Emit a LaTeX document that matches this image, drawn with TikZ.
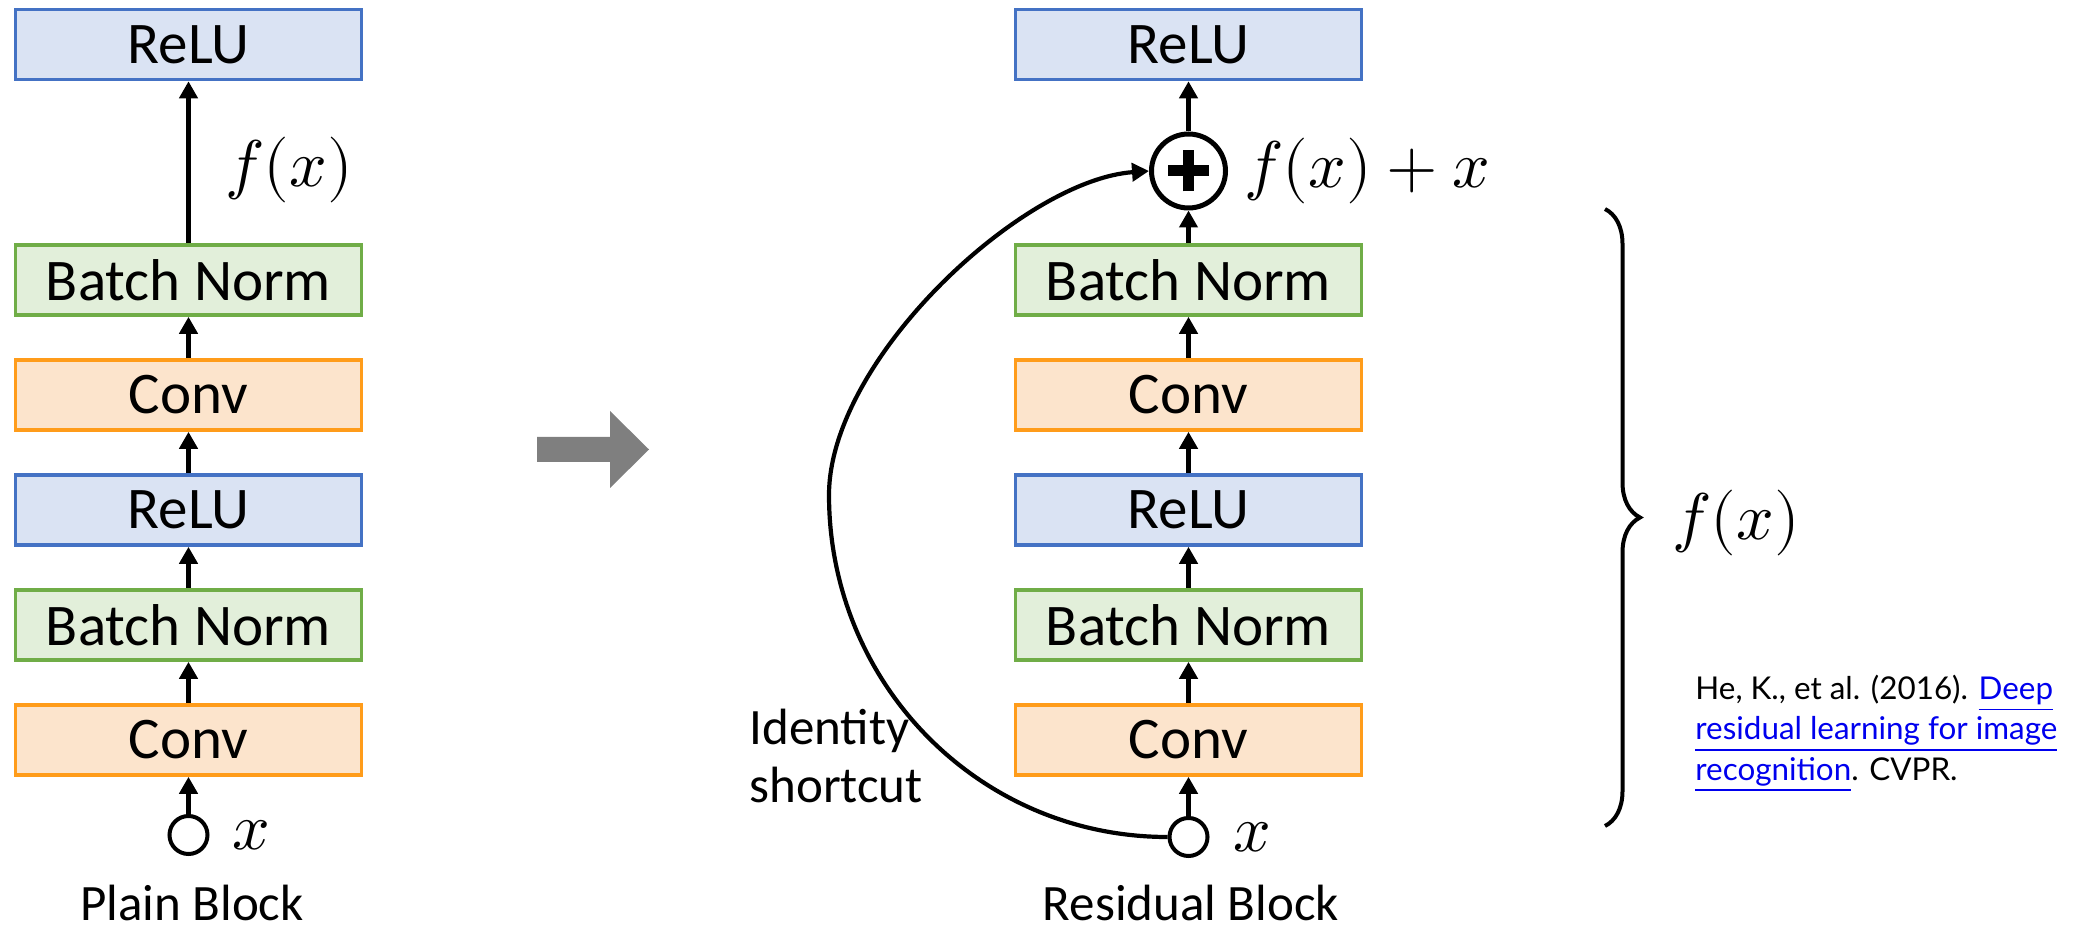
\documentclass[tikz,border=0pt]{standalone}
\usepackage{fontspec}
\usepackage{unicode-math}
\setmainfont{Carlito}
\newfontfamily\citefont{Lato}
\usetikzlibrary{arrows.meta,decorations.pathreplacing}
\definecolor{bluefill}{HTML}{DAE3F3}
\definecolor{blueline}{HTML}{4472C4}
\definecolor{greenfill}{HTML}{E2EFDA}
\definecolor{greenline}{HTML}{70AD47}
\definecolor{orangefill}{HTML}{FCE4CC}
\definecolor{orangeline}{HTML}{FF9C1A}
\definecolor{arrowgray}{HTML}{7F7F7F}
\definecolor{linkblue}{HTML}{0000EE}
\begin{document}
\begin{tikzpicture}[x=0.5pt,y=-0.5pt,
  box/.style={draw, line width=1.8pt, minimum width=173pt, minimum height=35pt, inner sep=0pt, font=\fontsize{29.5}{34}\selectfont},
  relubox/.style={box, draw=blueline, fill=bluefill},
  bnbox/.style={box, draw=greenline, fill=greenfill},
  convbox/.style={box, draw=orangeline, fill=orangefill},
  flow/.style={line width=2.6pt, -{Triangle[width=9pt,length=8.5pt]}},
  inpt/.style={circle, draw, line width=2pt, fill=white, minimum size=19pt, inner sep=0pt},
  mathlbl/.style={font=\fontsize{33}{38}\selectfont, inner sep=0pt},
  caption/.style={font=\fontsize{25.5}{30}\selectfont, inner sep=0pt},
  cite/.style={font=\citefont\fontsize{15.7}{19}\selectfont, inner sep=0pt, anchor=base west},
]
\useasboundingbox (0,0) rectangle (2098,929);

% ---- Plain block ----
\node[relubox] (L6) at (188.5,44.5) {ReLU};
\node[bnbox]   (L5) at (188.5,280) {Batch Norm};
\node[convbox] (L4) at (188.5,395) {Conv};
\node[relubox] (L3) at (188.5,510) {ReLU};
\node[bnbox]   (L2) at (188.5,625) {Batch Norm};
\node[convbox] (L1) at (188.5,740) {Conv};
\node[inpt]    (Lx) at (188.5,835) {};
\node[mathlbl, anchor=west] (Lxl) at (232,835) {$x$};
\node[mathlbl] (Lf) at (289,170) {$f(x)$};
\node[caption, anchor=base] (Lcap) at (192,920) {Plain Block};

\draw[flow] (Lx) -- (L1);
\draw[flow] (L1) -- (L2);
\draw[flow] (L2) -- (L3);
\draw[flow] (L3) -- (L4);
\draw[flow] (L4) -- (L5);
\draw[flow] (L5) -- (L6);

% ---- gray arrow ----
\fill[arrowgray] (537,437) -- (610,437) -- (610,411) -- (649,449.5) -- (610,488) -- (610,462) -- (537,462) -- cycle;

% ---- Residual block ----
\node[relubox] (R6) at (1188.5,44.5) {ReLU};
\node[circle, draw, line width=2.5pt, fill=white, minimum size=37pt, inner sep=0pt] (plus) at (1188.5,171) {};
\draw[line width=5.5pt] ([xshift=-10.25pt]plus.center) -- ([xshift=10.25pt]plus.center);
\draw[line width=5.5pt] ([yshift=-10.25pt]plus.center) -- ([yshift=10.25pt]plus.center);
\node[bnbox]   (R5) at (1188.5,280) {Batch Norm};
\node[convbox] (R4) at (1188.5,395) {Conv};
\node[relubox] (R3) at (1188.5,510) {ReLU};
\node[bnbox]   (R2) at (1188.5,625) {Batch Norm};
\node[convbox] (R1) at (1188.5,740) {Conv};
\node[inpt]    (Rx) at (1188.5,837) {};
\node[mathlbl, anchor=west] (Rxl) at (1233,837) {$x$};
\node[mathlbl, anchor=west] (Rf) at (1244,171) {$f(x)+x$};
\node[caption, anchor=base] (Rcap) at (1191,920) {Residual Block};
\node[caption, anchor=base west] (id1) at (749,745) {Identity};
\node[caption, anchor=base west] (id2) at (749,802) {shortcut};

\draw[flow] (Rx) -- (R1);
\draw[flow] (R1) -- (R2);
\draw[flow] (R2) -- (R3);
\draw[flow] (R3) -- (R4);
\draw[flow] (R4) -- (R5);
\draw[flow] (R5) -- (plus);
\draw[flow] (plus) -- (R6);

\coordinate (sc) at (829,495);
\draw[line width=2.1pt, -{Triangle[width=9pt,length=8.5pt]}]
  (Rx.west) .. controls +(-188,0) and +(0,189) .. (sc)
            .. controls +(0,-135) and +(-127,9) .. (plus.west);

% ---- brace ----
\coordinate (bt) at (1605,209);
\coordinate (bb) at (1605,826);
\draw[line width=2pt, decorate, decoration={brace, amplitude=17.5pt}] (bt) -- (bb);
\node[mathlbl] (Bf) at (1736,523) {$f(x)$};

% ---- citation ----
\node[cite] (c1) at (1695,700) {He, K., et al. (2016). \textcolor{linkblue}{\underline{Deep}}};
\node[cite] (c2) at (1695,740) {\textcolor{linkblue}{\underline{residual learning for image}}};
\node[cite] (c3) at (1695,780) {\textcolor{linkblue}{\underline{recognition}}. CVPR.};
\end{tikzpicture}
\end{document}
